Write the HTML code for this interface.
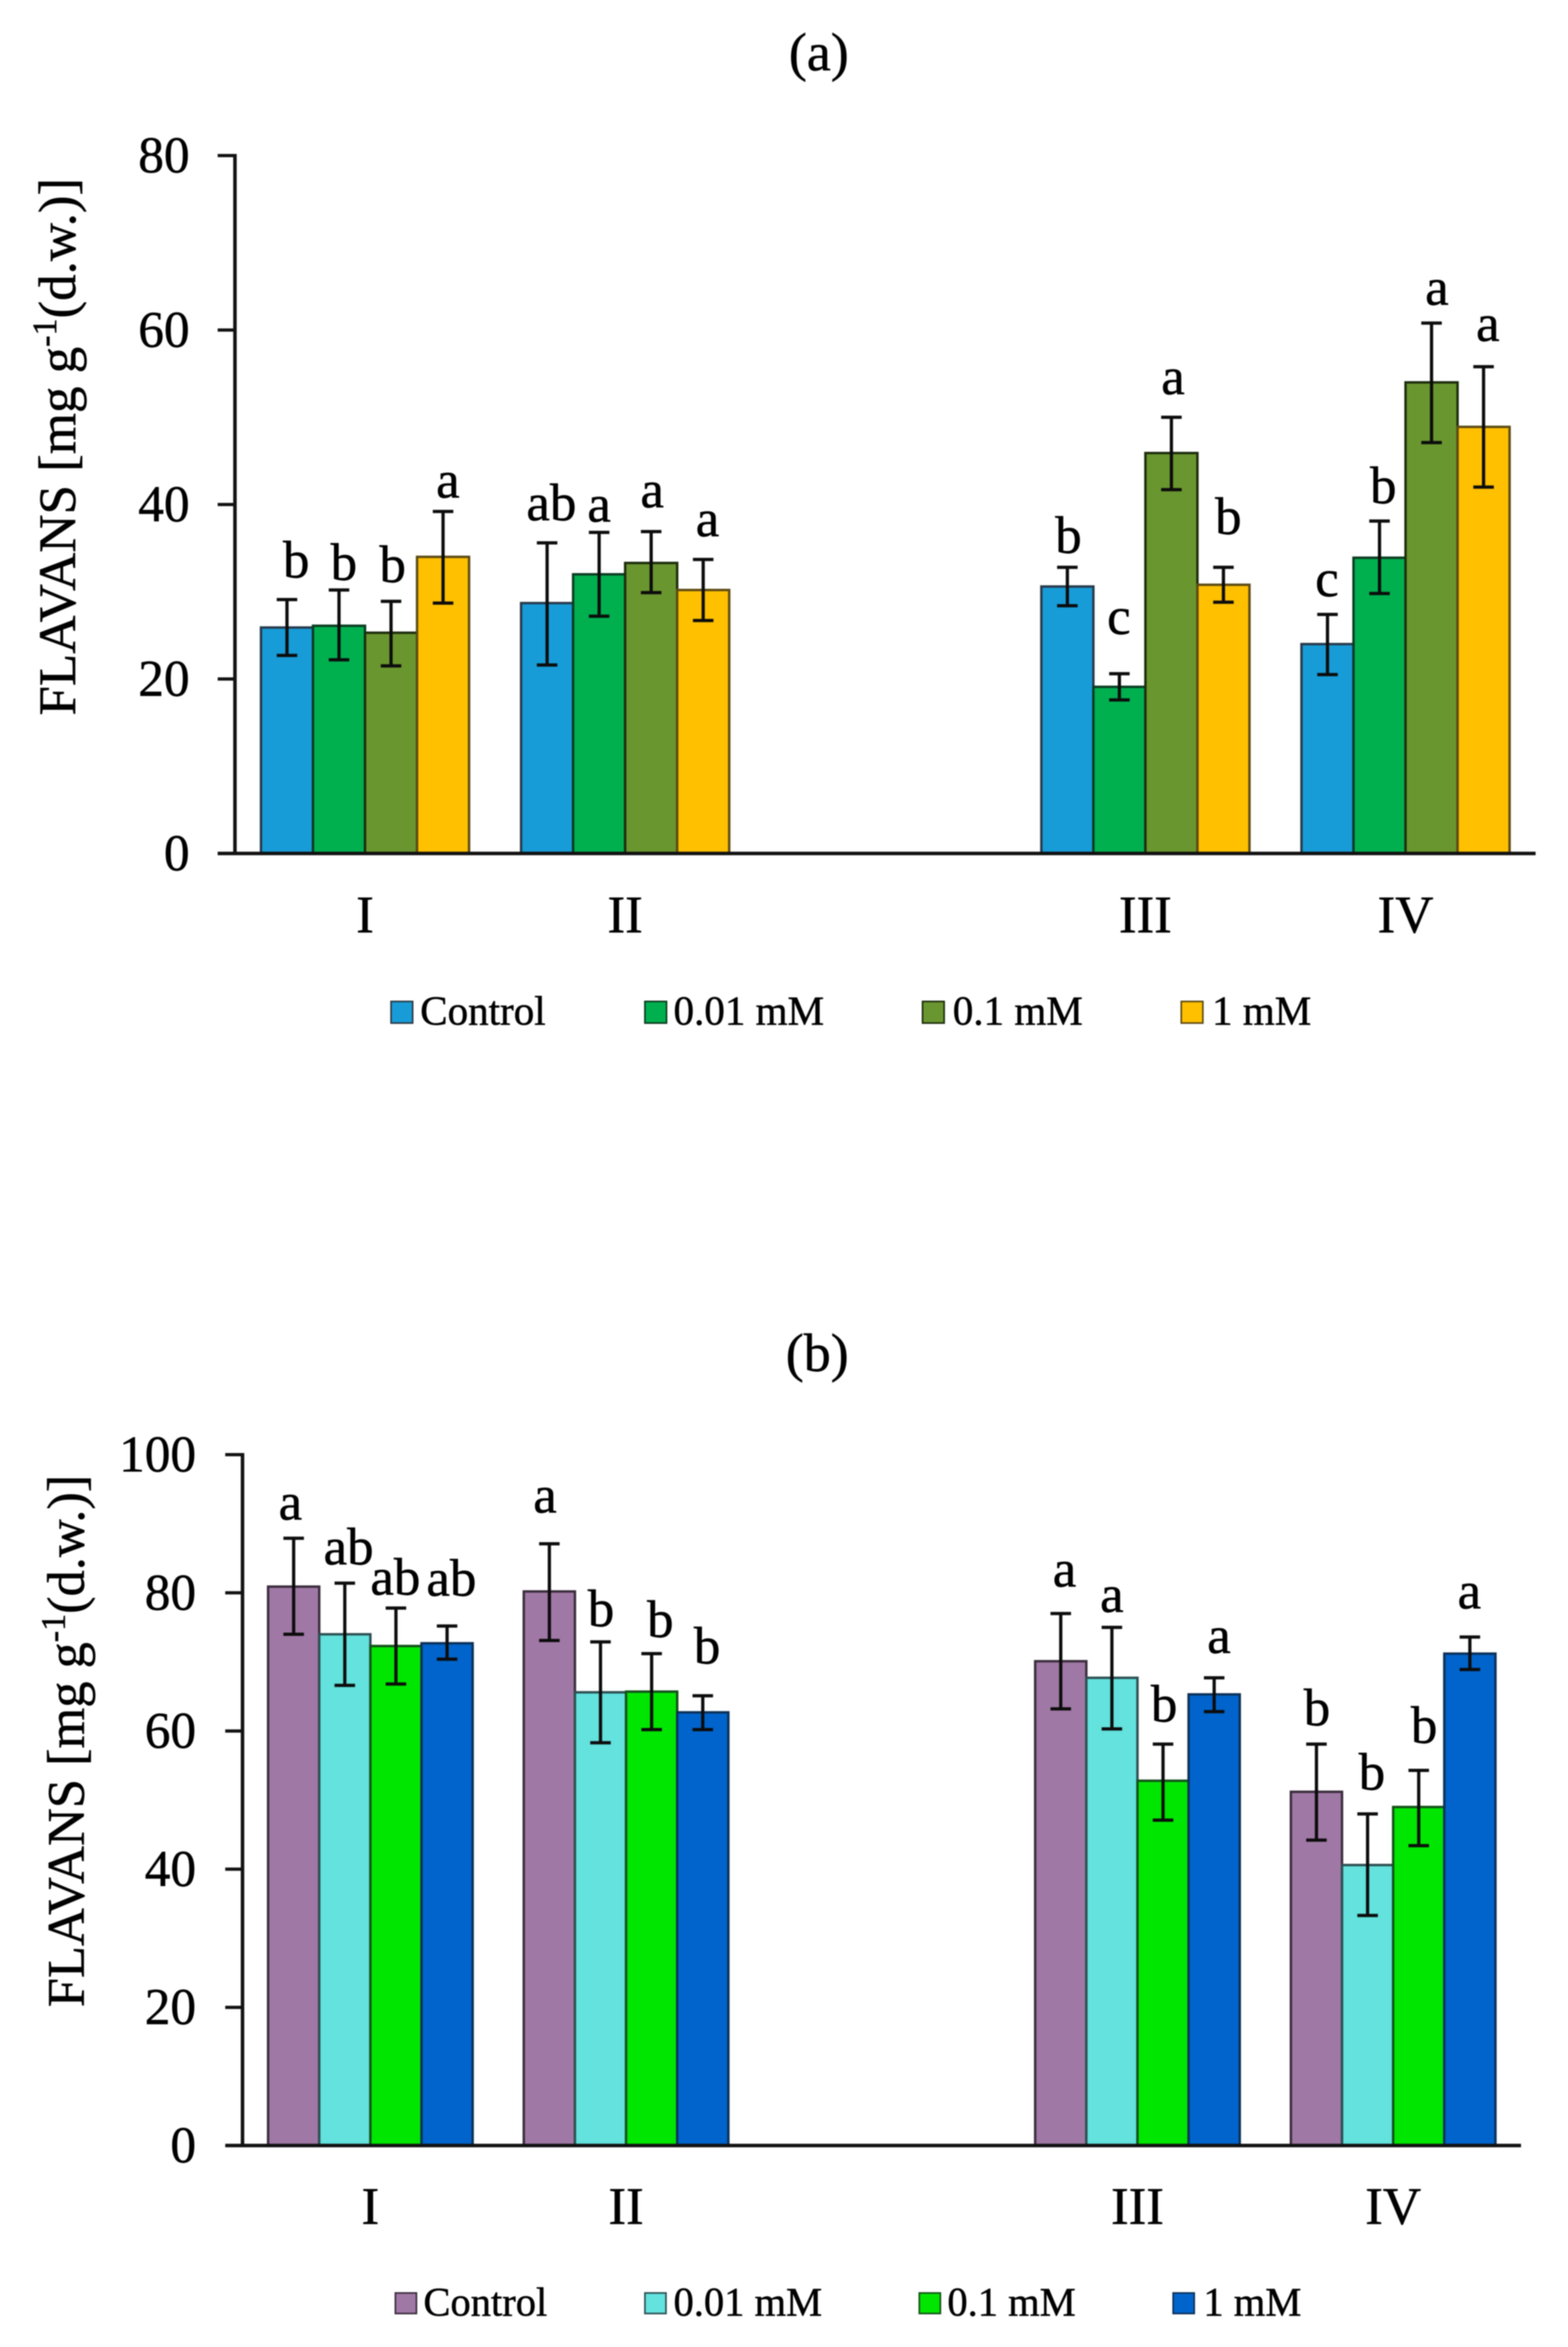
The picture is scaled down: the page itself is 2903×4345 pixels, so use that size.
<!DOCTYPE html>
<html lang="en">
<head>
<meta charset="utf-8">
<title>Flavans content charts</title>
<style>
html,body{margin:0;padding:0;background:#fff;}
svg{display:block;font-family:"Liberation Serif","Times New Roman",serif;fill:#000;filter:blur(1px);}
svg text{stroke:#000;stroke-width:0.9px;}
</style>
</head>
<body>
<svg id="figure" xmlns="http://www.w3.org/2000/svg" width="2903" height="4345" viewBox="0 0 2903 4345">
  <rect x="0" y="0" width="2903" height="4345" fill="#ffffff"/>

  <g id="panel-a">
    <text x="1516" y="130" font-size="100" text-anchor="middle">(a)</text>
    <text transform="translate(139 827) rotate(-90)" font-size="98" text-anchor="middle">FLAVANS [mg g<tspan font-size="63" dy="-35">-1</tspan><tspan dy="35">(d.w.)]</tspan></text>
    <g font-size="76">
      <rect x="724" y="1854" width="40" height="40" fill="#179cd8" stroke="#2a3a44" stroke-width="3"/>
      <text x="778" y="1897">Control</text>
      <rect x="1194" y="1854" width="40" height="40" fill="#00b04f" stroke="#0a3a1c" stroke-width="3"/>
      <text x="1247" y="1897">0.01 mM</text>
      <rect x="1708" y="1854" width="40" height="40" fill="#6a962f" stroke="#1c2c0c" stroke-width="3"/>
      <text x="1764" y="1897">0.1 mM</text>
      <rect x="2187" y="1854" width="40" height="40" fill="#ffc000" stroke="#5c4a14" stroke-width="3"/>
      <text x="2244" y="1897">1 mM</text>
    </g>
  </g>

  <g id="panel-b">
    <text x="1513" y="2538" font-size="100" text-anchor="middle">(b)</text>
    <text transform="translate(155 3223) rotate(-90)" font-size="97" text-anchor="middle">FLAVANS [mg g<tspan font-size="63" dy="-35">-1</tspan><tspan dy="35">(d.w.)]</tspan></text>
    <g font-size="75">
      <rect x="732" y="4245" width="39" height="38" fill="#a078a5" stroke="#3a2c3c" stroke-width="3"/>
      <text x="784" y="4287">Control</text>
      <rect x="1194" y="4245" width="39" height="38" fill="#63e2de" stroke="#2c4e50" stroke-width="3"/>
      <text x="1247" y="4287">0.01 mM</text>
      <rect x="1702" y="4245" width="39" height="38" fill="#00e600" stroke="#14501a" stroke-width="3"/>
      <text x="1754" y="4287">0.1 mM</text>
      <rect x="2172" y="4245" width="39" height="38" fill="#0064cc" stroke="#0c3058" stroke-width="3"/>
      <text x="2228" y="4287">1 mM</text>
    </g>
  </g>
</svg>

<script>
// ---- shared categories (the third slot is the empty gap on the axis) ----
const categories = ['I', 'II', '', 'III', 'IV'];
const seriesKeys = ['control', '001mm', '01mm', '1mm'];

// ---- panel (a) values ----
const ticksA = [0, 20, 40, 60, 80];
const meanA_control = [25.9, 28.7, null, 30.6, 24.0];
const meanA_001 = [26.1, 32.0, null, 19.1, 33.9];
const meanA_01 = [25.3, 33.3, null, 45.9, 54.0];
const meanA_1 = [34.0, 30.2, null, 30.8, 48.9];
const highA_control = [29.1, 35.6, null, 32.8, 27.4];
const highA_001 = [30.2, 36.8, null, 20.6, 38.1];
const highA_01 = [28.9, 36.9, null, 50.0, 60.8];
const highA_1 = [39.2, 33.7, null, 32.8, 55.8];
const lowA_control = [22.7, 21.6, null, 28.4, 20.5];
const lowA_001 = [22.2, 27.2, null, 17.6, 29.8];
const lowA_01 = [21.5, 29.9, null, 41.7, 47.1];
const lowA_1 = [28.7, 26.7, null, 28.8, 42.0];
const lettersA_control = ['b', 'ab', '', 'b', 'c'];
const lettersA_001 = ['b', 'a', '', 'c', 'b'];
const lettersA_01 = ['b', 'a', '', 'a', 'a'];
const lettersA_1 = ['a', 'a', '', 'b', 'a'];

// ---- panel (b) values ----
const ticksB = [0, 20, 40, 60, 80, 100];
const meanB_control = [80.9, 80.2, null, 70.1, 51.2];
const meanB_001 = [74.0, 65.6, null, 67.7, 40.6];
const meanB_01 = [72.3, 65.7, null, 52.8, 49.0];
const meanB_1 = [72.7, 62.7, null, 65.3, 71.2];
const highB_control = [87.9, 87.1, null, 77.0, 58.1];
const highB_001 = [81.4, 72.9, null, 75.0, 48.0];
const highB_01 = [77.8, 71.2, null, 58.1, 54.3];
const highB_1 = [75.2, 65.1, null, 67.7, 73.6];
const lowB_control = [74.0, 73.1, null, 63.2, 44.2];
const lowB_001 = [66.6, 58.3, null, 60.3, 33.3];
const lowB_01 = [66.8, 60.2, null, 47.1, 43.4];
const lowB_1 = [70.4, 60.2, null, 62.8, 68.9];
const lettersB_control = ['a', 'a', '', 'a', 'b'];
const lettersB_001 = ['ab', 'b', '', 'a', 'b'];
const lettersB_01 = ['ab', 'b', '', 'b', 'b'];
const lettersB_1 = ['ab', 'b', '', 'a', 'a'];

const SVG_NS = 'http://www.w3.org/2000/svg';

function make(tag, parent, attrs) {
  const node = document.createElementNS(SVG_NS, tag);
  Object.keys(attrs).forEach(function (k) { node.setAttribute(k, attrs[k]); });
  parent.appendChild(node);
  return node;
}

function drawPanel(cfg) {
  const root = document.getElementById(cfg.id);
  const slotW = (cfg.right - cfg.left) / categories.length;
  const barW = slotW * 0.2;
  const yOf = function (v) { return cfg.bottom - (v / cfg.max) * (cfg.bottom - cfg.top); };
  const xOf = function (c, s) { return cfg.left + slotW * c + slotW * 0.1 + barW * s; };

  // bars
  const barsGroup = make('g', root, {});
  
  
  cfg.means.forEach(function (series, s) {
    series.forEach(function (v, c) {
      if (v === null) return;
      const top = yOf(v);
      const bar = make('rect', barsGroup, {
        x: xOf(c, s), y: top, width: barW, height: cfg.bottom - top,
        fill: cfg.colors[s], stroke: cfg.strokes[s], 'stroke-width': 4.5
      });
      
      
    });
  });

  // error bars and significance letters
  cfg.means.forEach(function (series, s) {
    series.forEach(function (v, c) {
      if (v === null) return;
      const cx = xOf(c, s) + barW / 2;
      const hiY = yOf(cfg.highs[s][c]);
      const loY = yOf(cfg.lows[s][c]);
      const err = make('path', root, {
        d: 'M' + cx + ' ' + hiY + 'V' + loY + 'M' + (cx - 19) + ' ' + hiY + 'H' + (cx + 19) + 'M' + (cx - 19) + ' ' + loY + 'H' + (cx + 19),
        fill: 'none', stroke: '#0c0c0c', 'stroke-width': 6
      });
      
      

      const slotIdx = c > 2 ? c - 1 : c;
      const label = make('text', root, {
        x: cx + cfg.letterDx[slotIdx][s], y: hiY - cfg.letterGap[slotIdx][s],
        'font-size': 98, 'text-anchor': 'middle'
      });
      label.textContent = cfg.letters[s][c];
      
      
    });
  });

  // axes
  const yAxis = make('line', root, { x1: cfg.left, y1: cfg.top - 3, x2: cfg.left, y2: cfg.bottom, stroke: '#111', 'stroke-width': 6.5 });
  
  
  const xAxis = make('line', root, { x1: cfg.left - 32, y1: cfg.bottom, x2: cfg.right, y2: cfg.bottom, stroke: '#111', 'stroke-width': 6.5 });
  
  

  cfg.ticks.forEach(function (t) {
    const y = yOf(t);
    const mark = make('line', root, { x1: cfg.left - 32, y1: y, x2: cfg.left, y2: y, stroke: '#111', 'stroke-width': 6 });
    
    
    const tickLabel = make('text', root, { x: cfg.tickRight, y: y + 31, 'font-size': 95, 'text-anchor': 'end' });
    tickLabel.textContent = String(t);
    
    
  });

  categories.forEach(function (name, c) {
    if (!name) return;
    const catLabel = make('text', root, {
      x: cfg.left + slotW * (c + 0.5), y: cfg.catBaseline, 'font-size': 98, 'text-anchor': 'middle'
    });
    catLabel.textContent = name;
    
    
  });
}

function render() {
  drawPanel({
    id: 'panel-a', prefix: 'panel-a',
    left: 435, right: 2843, top: 288, bottom: 1580, max: 80,
    tickRight: 351, catBaseline: 1726,
    ticks: ticksA,
    means: [meanA_control, meanA_001, meanA_01, meanA_1],
    highs: [highA_control, highA_001, highA_01, highA_1],
    lows: [lowA_control, lowA_001, lowA_01, lowA_1],
    letters: [lettersA_control, lettersA_001, lettersA_01, lettersA_1],
    colors: ['#179cd8', '#00b04f', '#6a962f', '#ffc000'],
    strokes: ['#27394a', '#0b3a20', '#1c2c0c', '#5c4a14'],
    letterDx: [[17, 9, 3, 9], [8, 0, 2, 8], [2, -1, 3, 9], [-1, 7, 10, 8]],
    letterGap: [[41, 19, 36, 26], [42, 20, 45, 43], [27, 74, 43, 62], [34, 33, 34, 48]]
  });
  drawPanel({
    id: 'panel-b', prefix: 'panel-b',
    left: 449, right: 2816, top: 2693, bottom: 3972, max: 100,
    tickRight: 363, catBaseline: 4117,
    ticks: ticksB,
    means: [meanB_control, meanB_001, meanB_01, meanB_1],
    highs: [highB_control, highB_001, highB_01, highB_1],
    lows: [lowB_control, lowB_001, lowB_01, lowB_1],
    letters: [lettersB_control, lettersB_001, lettersB_01, lettersB_1],
    colors: ['#a078a5', '#63e2de', '#00e600', '#0064cc'],
    strokes: ['#3a2c3c', '#2c4e50', '#14501a', '#0c3058'],
    letterDx: [[-6, 7, -1, 8], [-8, 1, 16, 8], [7, 0, 2, 9], [1, 8, 10, -1]],
    letterGap: [[35, 35, 25, 56], [58, 29, 31, 60], [50, 29, 42, 46], [35, 45, 51, 53]]
  });
}
render();
</script>
</body>
</html>
